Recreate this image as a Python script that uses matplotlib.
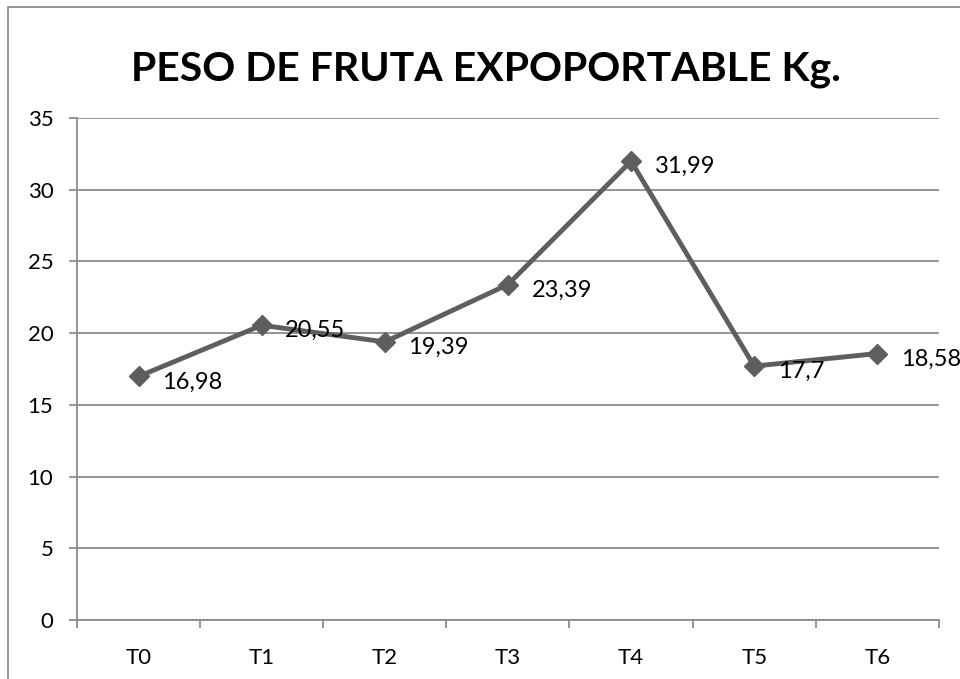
import matplotlib
matplotlib.use("Agg")
import matplotlib.pyplot as plt
from matplotlib.patches import Rectangle

categories = ["T0", "T1", "T2", "T3", "T4", "T5", "T6"]
peso = [16.98, 20.55, 19.39, 23.39, 31.99, 17.7, 18.58]
labels = ["16,98", "20,55", "19,39", "23,39", "31,99", "17,7", "18,58"]

plt.rcParams['font.family'] = ['Lato', 'DejaVu Sans']

fig = plt.figure(figsize=(9.6, 6.79), dpi=100)
ax = fig.add_axes([0.0802, 0.0869, 0.8978, 0.7393])

# chart border (cut off on right/bottom like the original)
fig.patches.append(Rectangle((8 / 960, -0.05), 2, 1 - 7 / 679 + 0.05, transform=fig.transFigure,
                             fill=False, edgecolor="#8c8c8c", linewidth=1.3))

x = list(range(len(categories)))
ax.plot(x, peso, color="#5e5e5e", linewidth=3.5, marker="D", markersize=10,
        markerfacecolor="#5e5e5e", markeredgecolor="#5e5e5e", zorder=3)
for xi, yi, lab in zip(x, peso, labels):
    ax.annotate(lab, (xi, yi), xytext=(17, -4), textcoords="offset points",
                ha="left", va="center", fontsize=17, color="black", zorder=4)

ax.set_xlim(-0.5, 6.5)
ax.set_ylim(0, 35)
ax.set_yticks(range(0, 36, 5))
ax.set_xticks(x)
ax.set_xticklabels(categories)
ax.set_xticks([i - 0.5 for i in range(8)], minor=True)
ax.tick_params(axis="x", which="major", length=0, pad=20, labelsize=16)
ax.tick_params(axis="x", which="minor", length=6, color="#8c8c8c", width=1.3)
ax.tick_params(axis="y", length=6, color="#8c8c8c", width=1.3, pad=11, labelsize=16)
ax.grid(axis="y", color="#8c8c8c", linewidth=1.3)
ax.set_axisbelow(True)
for s in ["top", "right"]:
    ax.spines[s].set_visible(False)
for s in ["left", "bottom"]:
    ax.spines[s].set_color("#8c8c8c")
    ax.spines[s].set_linewidth(1.3)

fig.text(0.506, 0.897, "PESO DE FRUTA EXPOPORTABLE Kg.", ha="center", va="center",
         fontsize=29.5, fontweight="bold")

fig.savefig("out.png", dpi=100)
